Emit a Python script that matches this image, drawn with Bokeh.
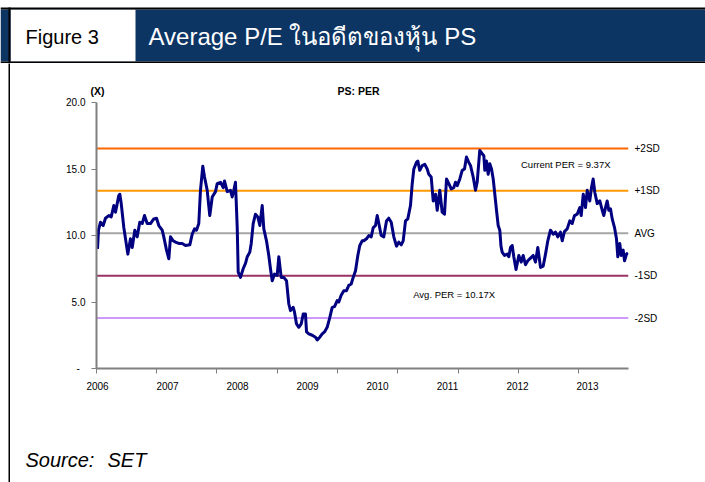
from bokeh.plotting import figure
from bokeh.models import Range1d, FixedTicker, LinearAxis, Spacer
from bokeh.layouts import column, row
from bokeh.core.properties import value
from bokeh.embed import file_html
from bokeh.resources import INLINE

# ---------------- data ----------------
BASE_YEAR = 2006
T_OFFSETS = [
    0.000, 0.014, 0.043, 0.081, 0.114, 0.161, 0.196, 0.233, 0.257, 0.304, 0.319, 0.339,
    0.376, 0.433, 0.471, 0.496, 0.533, 0.567, 0.604, 0.639, 0.671, 0.710, 0.757, 0.804,
    0.843, 0.876, 0.924, 0.947, 0.986, 1.019, 1.043, 1.081, 1.114, 1.161, 1.210, 1.257,
    1.319, 1.353, 1.386, 1.414, 1.447, 1.471, 1.504, 1.529, 1.567, 1.604, 1.639, 1.686,
    1.710, 1.757, 1.796, 1.814, 1.853, 1.900, 1.924, 1.947, 1.971, 1.996, 2.010, 2.043,
    2.081, 2.114, 2.139, 2.176, 2.196, 2.224, 2.257, 2.290, 2.319, 2.353, 2.376, 2.414,
    2.447, 2.471, 2.496, 2.529, 2.567, 2.590, 2.624, 2.661, 2.700, 2.733, 2.757, 2.796,
    2.814, 2.843, 2.876, 2.910, 2.939, 2.971, 2.986, 3.019, 3.067, 3.114, 3.139, 3.176,
    3.210, 3.243, 3.281, 3.319, 3.353, 3.386, 3.424, 3.447, 3.481, 3.519, 3.557, 3.590,
    3.624, 3.653, 3.686, 3.719, 3.747, 3.781, 3.804, 3.843, 3.876, 3.910, 3.939, 3.971,
    3.996, 4.019, 4.053, 4.090, 4.129, 4.161, 4.196, 4.233, 4.271, 4.304, 4.339, 4.367,
    4.400, 4.433, 4.471, 4.496, 4.519, 4.557, 4.576, 4.604, 4.639, 4.676, 4.710, 4.733,
    4.767, 4.796, 4.829, 4.853, 4.890, 4.924, 4.957, 4.986, 5.019, 5.053, 5.090, 5.114,
    5.139, 5.176, 5.210, 5.243, 5.271, 5.304, 5.329, 5.367, 5.400, 5.424, 5.461, 5.496,
    5.519, 5.533, 5.557, 5.581, 5.604, 5.629, 5.653, 5.676, 5.700, 5.724, 5.747, 5.764,
    5.781, 5.814, 5.853, 5.876, 5.900, 5.924, 5.947, 5.979, 6.019, 6.053, 6.081, 6.114,
    6.147, 6.186, 6.224, 6.257, 6.290, 6.329, 6.367, 6.400, 6.433, 6.471, 6.510, 6.543,
    6.576, 6.614, 6.639, 6.671, 6.710, 6.747, 6.781, 6.814, 6.853, 6.890, 6.910, 6.939,
    6.971, 6.996, 7.033, 7.057, 7.081, 7.104, 7.139, 7.176, 7.210, 7.233, 7.257, 7.281,
    7.304, 7.329, 7.353, 7.386, 7.414, 7.433, 7.461, 7.481, 7.510, 7.529, 7.557, 7.579,
]
PER = [
    9.00, 10.40, 11.00, 10.75, 11.30, 11.50, 11.40, 12.25, 11.75, 13.00, 13.10, 12.40,
    10.60, 8.60, 9.75, 9.10, 10.40, 9.90, 11.00, 10.90, 11.50, 10.90, 10.90, 11.25,
    11.30, 10.75, 10.40, 9.90, 8.90, 8.25, 9.90, 9.60, 9.50, 9.40, 9.40, 9.25,
    9.30, 10.10, 10.50, 10.40, 10.90, 13.40, 15.20, 14.40, 13.40, 11.50, 12.90, 13.30,
    13.90, 14.00, 13.60, 14.10, 13.30, 13.40, 12.90, 13.40, 14.00, 10.60, 7.25, 6.85,
    7.50, 7.90, 8.40, 8.75, 9.40, 10.90, 11.60, 11.40, 10.75, 12.25, 10.50, 9.60,
    8.50, 7.50, 6.60, 7.10, 7.00, 8.40, 6.85, 6.85, 6.60, 4.85, 4.35, 4.60,
    4.25, 3.35, 3.10, 3.35, 4.10, 4.10, 2.75, 2.60, 2.50, 2.35, 2.15, 2.35,
    2.60, 2.75, 3.10, 3.85, 4.60, 4.65, 5.10, 5.00, 5.50, 5.85, 5.85, 6.25,
    6.35, 6.85, 7.35, 8.50, 9.25, 9.60, 9.60, 9.75, 10.00, 9.90, 10.60, 10.75,
    11.50, 10.90, 10.00, 9.90, 11.10, 11.30, 11.00, 9.90, 9.20, 9.50, 9.30, 9.60,
    11.10, 11.25, 12.25, 13.90, 15.00, 15.50, 15.60, 14.90, 15.25, 15.35, 15.00, 14.60,
    14.40, 12.60, 13.10, 11.90, 13.40, 11.75, 11.60, 14.25, 13.90, 13.50, 13.60, 14.00,
    13.75, 14.25, 14.90, 15.00, 15.90, 15.50, 15.25, 14.40, 13.40, 14.00, 16.40, 16.15,
    16.00, 14.90, 15.60, 14.60, 15.40, 15.00, 14.25, 13.10, 11.90, 10.75, 10.40, 9.20,
    8.75, 8.50, 8.60, 8.40, 9.10, 9.25, 8.40, 7.45, 8.50, 8.00, 8.50, 7.80,
    8.10, 8.30, 8.50, 8.00, 9.10, 7.60, 7.70, 8.60, 9.60, 10.40, 10.10, 10.25,
    9.90, 10.25, 9.60, 10.30, 10.50, 11.10, 10.90, 11.50, 11.60, 12.10, 11.50, 13.10,
    12.10, 13.40, 12.60, 13.60, 14.25, 13.25, 12.40, 12.60, 11.90, 11.50, 12.10, 12.60,
    11.90, 12.00, 11.25, 10.60, 9.75, 8.40, 9.40, 8.50, 8.90, 8.10, 8.60, 8.70,
]
DATES = [BASE_YEAR + t for t in T_OFFSETS]

BAND_NAMES = ["+2SD", "+1SD", "AVG", "-1SD", "-2SD"]
BAND_VALUES = [16.55, 13.36, 10.17, 6.98, 3.79]
BAND_COLORS = ["#FF6600", "#FF9900", "#A6A6A6", "#993366", "#CC99FF"]

YEAR_TICKS = list(range(2006, 2014))
YEAR_LABELS = [str(y) for y in YEAR_TICKS]
TICK_MARKS = [2005.986, 2006.846, 2007.707, 2008.568, 2009.429,
              2010.289, 2011.150, 2012.011, 2012.871]
Y_TICKS = [0, 5, 10, 15, 20]
Y_LABELS = ["-\u00a0\u00a0", "5.0", "10.0", "15.0", "20.0"]

CURRENT_PER = 9.37
AVG_PER = 10.17

TITLE_TEXTS = ["(X)", "PS: PER"]
TITLE_POS = [2006.0, 2009.73]

FONT = "Liberation Sans"
NAVY = "#0C3564"
W, H = 705, 482


def deco_fig(w, h, fill="white"):
    f = figure(width=w, height=h, output_backend="svg", toolbar_location=None,
               x_range=Range1d(0, w), y_range=Range1d(h, 0),
               x_axis_location=None, y_axis_location=None,
               min_border=0, min_border_left=0, min_border_right=0,
               min_border_top=0, min_border_bottom=0)
    f.outline_line_color = None
    f.grid.visible = False
    f.background_fill_color = fill
    f.border_fill_color = fill
    return f


# ---------------- header ----------------
HH = 63
hdr = deco_fig(W, HH)
hdr.quad(left=[0], right=[W], top=[9], bottom=[61], fill_color=NAVY, line_color=None)
hdr.quad(left=[10], right=[135], top=[9], bottom=[61], fill_color="white", line_color=None)
hdr.quad(left=[0, 0, 8], right=[W, W, 10], top=[7, 61, 7], bottom=[9, 63, 63],
         fill_color="black", line_color=None)
hdr.text(x=[25], y=[36], text=["Figure 3"], text_font=value(FONT), text_font_size="20px",
         text_color="black", text_baseline="middle")
hdr.text(x=[148], y=[36], text=["Average P/E ในอดีตของหุ้น PS"], text_font=value(FONT),
         text_font_size="24px", text_color="white", text_baseline="middle")

BH = H - HH          # body height (chart + source)
SH = 52              # source strip height
MH = BH - SH         # chart height
MW = W - 10          # chart width (right of the left border line)

# ---------------- left border line (whole body height) ----------------
strip = deco_fig(2, BH, fill="black")

# ---------------- source line ----------------
src = deco_fig(MW, SH)
src.text(x=[15, 97], y=[29, 29], text=["Source:", "SET"], text_font=value(FONT),
         text_font_size="20px", text_font_style="italic", text_color="black",
         text_baseline="middle")

# ---------------- main chart ----------------
FL, FR, FT, FB = 96 - 10, 628 - 10, 102 - HH, 368 - HH   # frame edges inside this canvas

p = figure(
    width=MW, height=MH, output_backend="svg", toolbar_location=None,
    x_range=Range1d(BASE_YEAR - 1 / 70, BASE_YEAR + 531 / 70),
    y_range=Range1d(0, 20),
    min_border_left=FL, min_border_right=MW - FR,
    min_border_top=FT, min_border_bottom=MH - FB,
)
p.outline_line_color = None
p.grid.visible = False
p.background_fill_color = "white"
p.border_fill_color = "white"

x0, x1 = p.x_range.start, p.x_range.end
p.segment(x0=[x0] * len(BAND_VALUES), x1=[x1] * len(BAND_VALUES),
          y0=BAND_VALUES, y1=BAND_VALUES, line_color=BAND_COLORS, line_width=2)
p.line(DATES, PER, line_color="#000080", line_width=3, line_join="round")

p.text(x=[2012.05], y=[15.34], text=[f"Current PER = {CURRENT_PER:.2f}X"],
       text_font=value(FONT), text_font_size="9.5px", text_color="black",
       text_baseline="middle")
p.text(x=[2010.51], y=[5.56], text=[f"Avg. PER = {AVG_PER:.2f}X"],
       text_font=value(FONT), text_font_size="9.5px", text_color="black",
       text_baseline="middle")

# bottom axis: year labels + tick marks (as minor ticks)
xa = p.xaxis[0]
xa.ticker = FixedTicker(ticks=YEAR_TICKS, minor_ticks=TICK_MARKS)
xa.major_label_overrides = {t: l for t, l in zip(YEAR_TICKS, YEAR_LABELS)}
xa.axis_line_color = "#808080"
xa.axis_line_width = 2
xa.major_tick_line_color = None
xa.major_tick_out = 0
xa.major_tick_in = 0
xa.minor_tick_line_color = "#808080"
xa.minor_tick_out = 5
xa.minor_tick_in = 0
xa.major_label_standoff = 8
xa.major_label_text_font = FONT
xa.major_label_text_font_size = "10px"
xa.major_label_text_color = "black"

# left axis
ya = p.yaxis[0]
ya.ticker = FixedTicker(ticks=Y_TICKS)
ya.major_label_overrides = {t: l for t, l in zip(Y_TICKS, Y_LABELS)}
ya.axis_line_color = "#808080"
ya.axis_line_width = 2
ya.major_tick_line_color = "#808080"
ya.major_tick_out = 5
ya.major_tick_in = 0
ya.minor_tick_line_color = None
ya.major_label_standoff = 6
ya.major_label_text_font = FONT
ya.major_label_text_font_size = "10px"
ya.major_label_text_color = "black"

# right axis: band names
ra = LinearAxis(ticker=FixedTicker(ticks=BAND_VALUES),
                major_label_overrides={v: n for v, n in zip(BAND_VALUES, BAND_NAMES)},
                axis_line_color=None, major_tick_line_color=None, minor_tick_line_color=None,
                major_tick_out=0, major_tick_in=0, major_label_standoff=6,
                major_label_text_font=FONT, major_label_text_font_size="10px",
                major_label_text_color="black")
p.add_layout(ra, "right")

# top axis: chart titles
ta = LinearAxis(ticker=FixedTicker(ticks=TITLE_POS),
                major_label_overrides={v: n for v, n in zip(TITLE_POS, TITLE_TEXTS)},
                axis_line_color=None, major_tick_line_color=None, minor_tick_line_color=None,
                major_tick_out=0, major_tick_in=0, major_label_standoff=6,
                major_label_text_font=FONT, major_label_text_font_size="10.5px",
                major_label_text_font_style="bold", major_label_text_color="black")
p.add_layout(ta, "above")

layout = column(
    hdr,
    row(Spacer(width=8, height=BH), column(strip), column(column(p), column(src))),
)
open("out.html", "w").write(file_html(layout, INLINE))
